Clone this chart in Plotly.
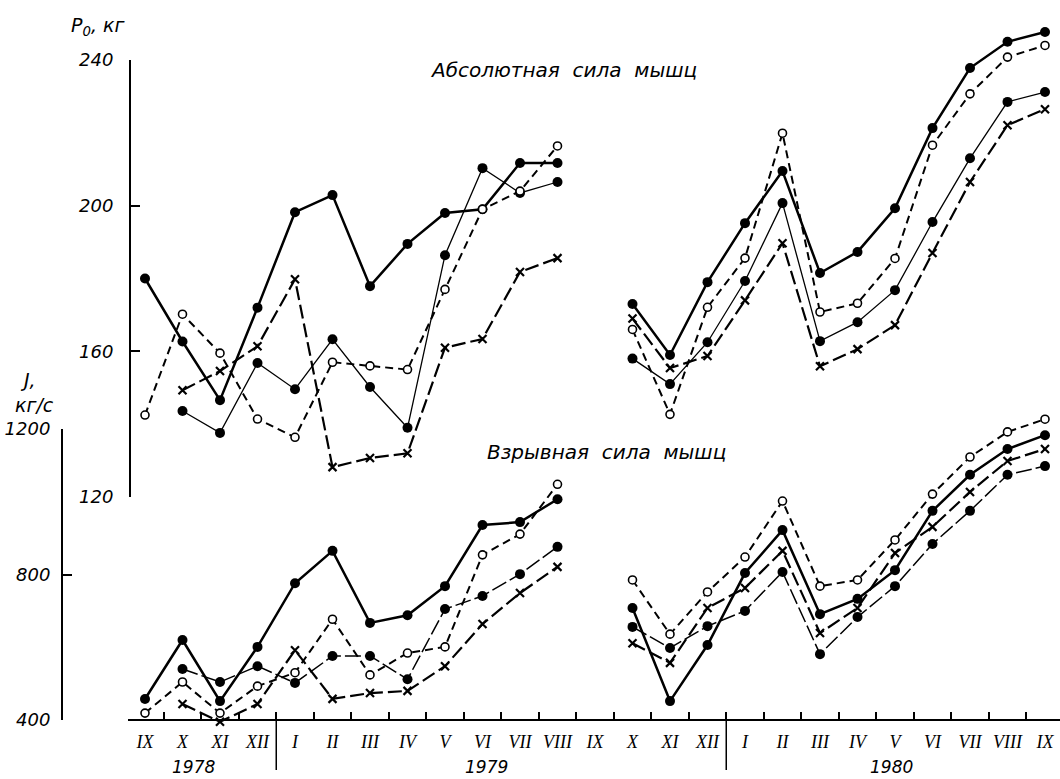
import plotly.graph_objects as go

# Month axis: IX 1978 ... IX 1980 (index 12 = IX 1979, no measurement)
months = ["IX", "X", "XI", "XII", "I", "II", "III", "IV", "V", "VI", "VII", "VIII",
          "IX", "X", "XI", "XII", "I", "II", "III", "IV", "V", "VI", "VII", "VIII", "IX"]
years = ["1978", "1979", "1980"]
year_pos = [1.3, 9.1, 19.9]
year_breaks = [3.5, 15.5]

# Абсолютная сила мышц, P0 (кг)
abs_a = [180, 162.7, 146.6, 172, 198.2, 202.9, 177.9, 189.5, 198, 199, 211.7, 211.7, None,
         173, 159, 179, 195.2, 209.5, 181.5, 187.3, 199.3, 221.3, 237.8, 245, 247.7]
abs_b = [142.5, 170.2, 159.5, 141.4, 136.4, 157, 156, 155, 177, 199, 204, 216.4, None,
         166, 142.7, 172.1, 185.6, 219.9, 170.8, 173.2, 185.5, 216.6, 230.7, 240.8, 244]
abs_c = [None, 143.6, 137.6, 156.8, 149.6, 163.3, 150.2, 139, 186.4, 210.3, 203.5, 206.5, None,
         158, 151, 162.5, 179.3, 200.7, 162.8, 168, 176.8, 195.5, 213, 228.5, 231.2]
abs_d = [None, 149.3, 154.6, 161.4, 179.8, 128.2, 130.7, 132, 161, 163.4, 181.8, 185.6, None,
         169, 155.4, 158.7, 174, 189.7, 155.9, 160.6, 167.2, 187, 206.5, 222.1, 226.5]

# Взрывная сила мышц, J (кг/с)
exp_a = [457.7, 620, 452, 601, 776, 865, 667, 688, 768, 936, 944, 1007, None,
         708, 452, 606, 804, 922, 691, 733, 812, 975, 1074, 1145, 1183]
exp_b = [419, 504.5, 419, 493, 530, 677, 524, 584, 601, 854, 911, 1048, None,
         785, 636, 752, 848, 1002, 768, 785, 895, 1021, 1123, 1192, 1227]
exp_c = [None, 540, 504.5, 548, 502, 576, 576, 512, 705, 741, 801, 876, None,
         656, 598, 658, 700, 807, 581, 683, 768, 884, 975, 1074, 1098]
exp_d = [None, 444, 395, 444, 592, 458, 474, 480, 548, 664, 749, 821, None,
         611, 557, 708, 763, 865, 639, 708, 859, 931, 1027, 1112, 1145]

abs_ticks = [120, 160, 200, 240]
exp_ticks = [400, 800, 1200]

W, H = 1060, 779
SANS = "DejaVu Sans"
SERIF = "Liberation Serif"
idx = list(range(len(months)))

# pixel geometry of the frame
x0_px, dx_px = 145.0, 37.5          # first month position, month spacing
axis_y_px = 720                      # month axis line
top_px = {240: 60, 120: 497}         # kg axis extent
bot_px = {1200: 429, 400: 720}       # kg/s axis extent
top_axis_x, bot_axis_x = 130, 62


def full_range(v_hi, px_hi, v_lo, px_lo):
    k = (px_lo - px_hi) / (v_hi - v_lo)
    return [v_lo - (H - px_lo) / k, v_hi + px_hi / k]


xr = [-x0_px / dx_px, (W - x0_px) / dx_px]
yr_top = full_range(240, top_px[240], 120, top_px[120])
yr_bot = full_range(1200, bot_px[1200], 400, bot_px[400])

styles = {
    "a": dict(line=dict(color="black", width=2.5),
              marker=dict(symbol="circle", size=10, color="black")),
    "b": dict(line=dict(color="black", width=2, dash="8px,5px"),
              marker=dict(symbol="circle", size=8, color="white",
                          line=dict(color="black", width=1.6))),
    "c": dict(line=dict(color="black", width=1.3),
              marker=dict(symbol="circle", size=10, color="black")),
    "c2": dict(line=dict(color="black", width=1.5, dash="16px,4px"),
               marker=dict(symbol="circle", size=10, color="black")),
    "d": dict(line=dict(color="black", width=2.2, dash="14px,5px"),
              marker=dict(symbol="x-thin", size=8, color="black",
                          line=dict(color="black", width=2.2))),
}

fig = go.Figure()

for ys, st in [(abs_c, "c"), (abs_d, "d"), (abs_a, "a"), (abs_b, "b")]:
    fig.add_trace(go.Scatter(x=idx, y=ys, mode="lines+markers", xaxis="x", yaxis="y",
                             cliponaxis=False, **styles[st]))
for ys, st in [(exp_c, "c2"), (exp_d, "d"), (exp_a, "a"), (exp_b, "b")]:
    fig.add_trace(go.Scatter(x=idx, y=ys, mode="lines+markers", xaxis="x", yaxis="y2",
                             cliponaxis=False, **styles[st]))

# placeholders so the visible frame axes are created
fig.add_trace(go.Scatter(x=[], y=[], xaxis="x2", yaxis="y", hoverinfo="skip"))
fig.add_trace(go.Scatter(x=[], y=[], xaxis="x", yaxis="y3", hoverinfo="skip"))
fig.add_trace(go.Scatter(x=[], y=[], xaxis="x", yaxis="y4", hoverinfo="skip"))

tick_font = dict(family=SANS, size=18, color="black", style="italic")
hidden = dict(visible=False, showgrid=False, zeroline=False, fixedrange=True)

fig.update_layout(
    width=W, height=H,
    margin=dict(l=0, r=0, t=0, b=0, pad=0, autoexpand=False),
    paper_bgcolor="white", plot_bgcolor="rgba(0,0,0,0)",
    showlegend=False,
    xaxis=dict(domain=[0, 1], range=xr, **hidden),
    yaxis=dict(domain=[0, 1], range=yr_top, **hidden),
    yaxis2=dict(domain=[0, 1], range=yr_bot, overlaying="y", **hidden),
    xaxis2=dict(
        domain=[128 / W, 1], range=[(128 - x0_px) / dx_px, xr[1]],
        anchor="free", position=1 - axis_y_px / H,
        showline=True, linecolor="black", linewidth=2,
        tickmode="array", tickvals=idx, ticktext=months, ticks="",
        tickfont=dict(family=SERIF, size=18, color="black", style="italic"),
        ticklabelstandoff=5,
        minor=dict(tickvals=[i - 0.5 for i in range(len(months) + 1)],
                   ticks="inside", ticklen=7, tickwidth=1.5, tickcolor="black",
                   showgrid=False),
        showgrid=False, zeroline=False, fixedrange=True,
    ),
    yaxis3=dict(
        domain=[1 - top_px[120] / H, 1 - top_px[240] / H], range=[120, 240],
        anchor="free", position=top_axis_x / W, side="left",
        showline=True, linecolor="black", linewidth=2,
        tickmode="array", tickvals=abs_ticks, ticks="inside", ticklen=9,
        tickwidth=2, tickcolor="black", tickfont=tick_font, ticklabelstandoff=12,
        showgrid=False, zeroline=False, fixedrange=True,
    ),
    yaxis4=dict(
        domain=[1 - bot_px[400] / H, 1 - bot_px[1200] / H], range=[400, 1200],
        anchor="free", position=bot_axis_x / W, side="left",
        showline=True, linecolor="black", linewidth=2,
        tickmode="array", tickvals=exp_ticks, ticks="inside", ticklen=9,
        tickwidth=2, tickcolor="black", tickfont=tick_font, ticklabelstandoff=7,
        showgrid=False, zeroline=False, fixedrange=True,
    ),
)

# year separators under the month axis
for xb in year_breaks:
    fig.add_shape(type="line", xref="x", yref="paper", x0=xb, x1=xb,
                  y0=1 - 712 / H, y1=1 - 770 / H, line=dict(color="black", width=1.5))


def label(text, x_px, y_px, size, family=SANS):
    fig.add_annotation(x=x_px / W, y=1 - y_px / H, xref="paper", yref="paper",
                       xanchor="center", yanchor="middle", text=text, showarrow=False,
                       font=dict(family=family, size=size, color="black", style="italic"))


for yl, xp in zip(years, year_pos):
    fig.add_annotation(x=xp, y=1 - 767 / H, xref="x", yref="paper", text=yl,
                       xanchor="center", yanchor="middle", showarrow=False,
                       font=dict(family=SANS, size=17, color="black", style="italic"))

label("P<sub>0</sub>, кг", 98, 26, 19)
label("J,", 28, 380, 19)
label("кг/с", 34, 405, 19)
label("Абсолютная  сила  мышц", 563, 70, 20)
label("Взрывная  сила  мышц", 606, 452, 20)

fig.write_html("out.html")
